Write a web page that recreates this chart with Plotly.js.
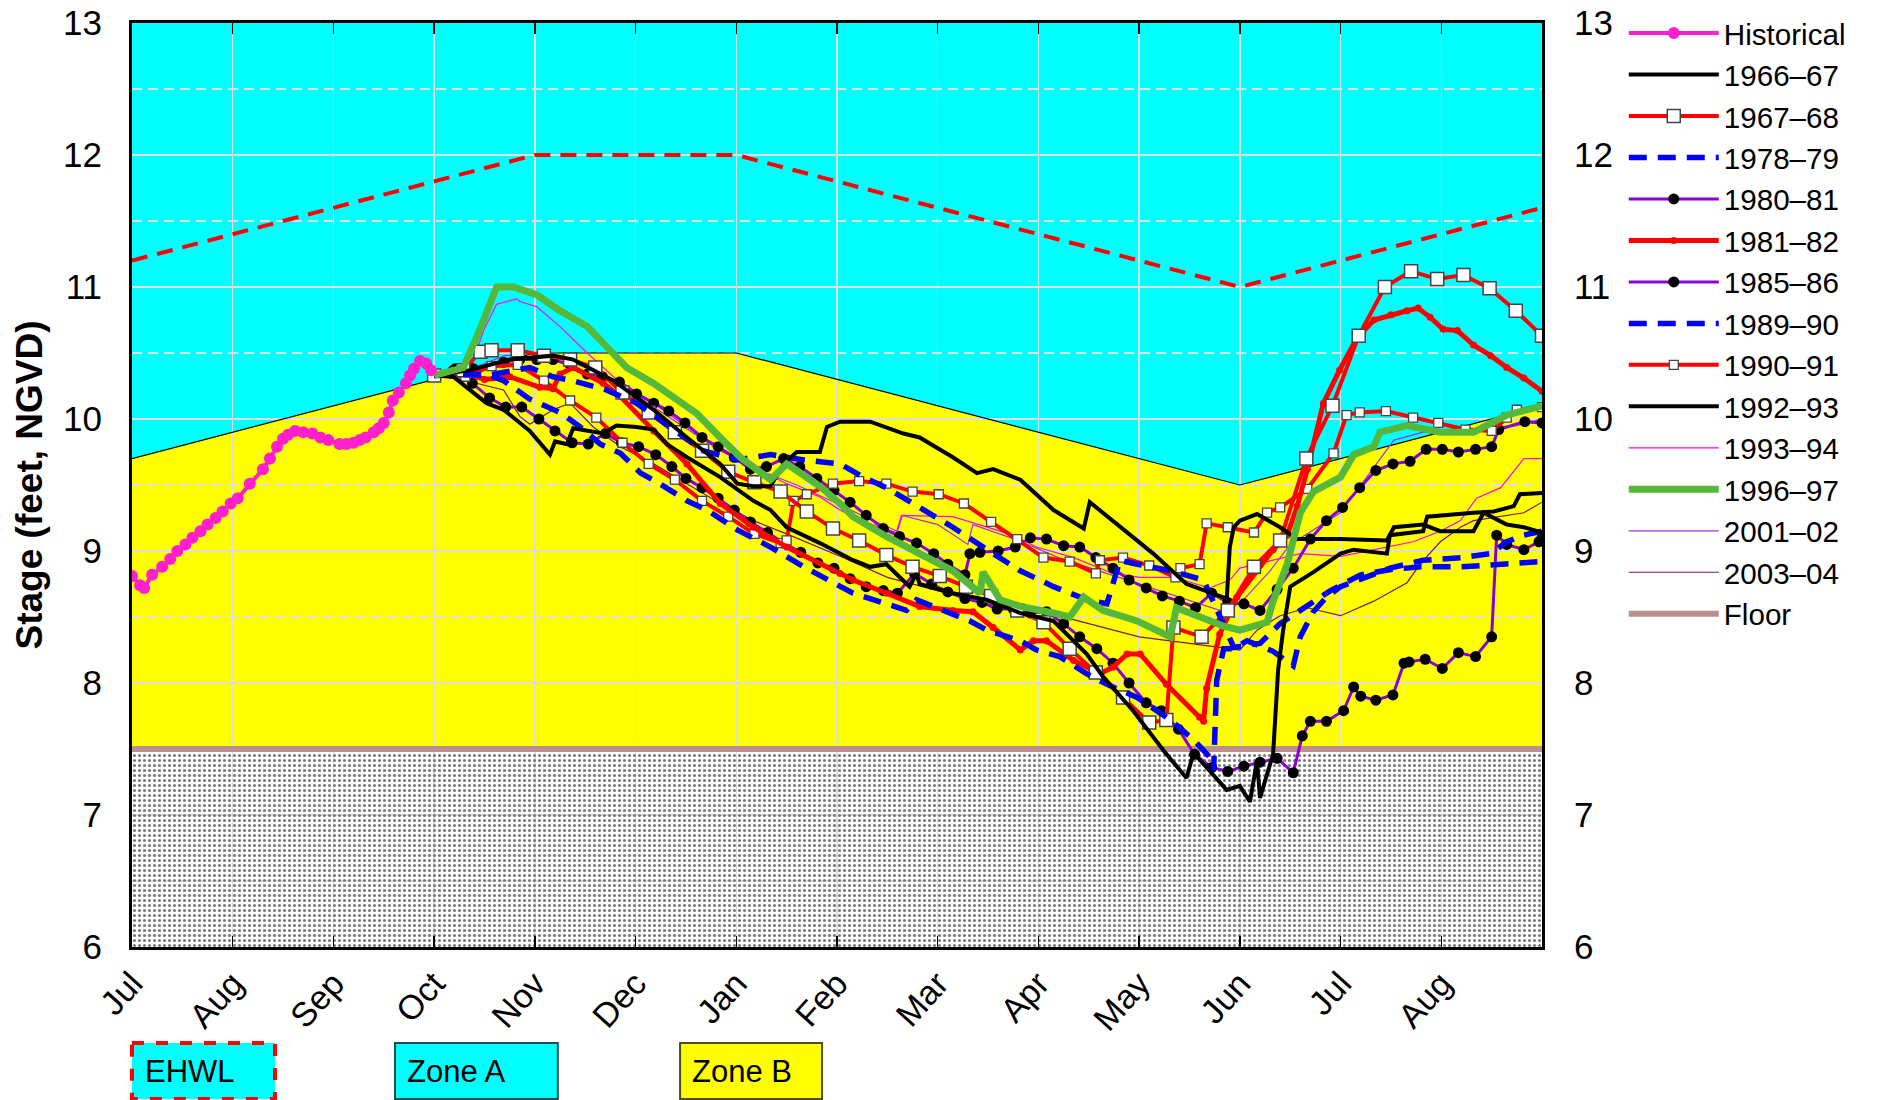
<!DOCTYPE html>
<html><head><meta charset="utf-8">
<script src="https://cdn.plot.ly/plotly-3.0.1.min.js"></script>
<style>html,body{margin:0;padding:0;background:#fff;}#chart{width:1885px;height:1100px;}</style>
</head><body><div id="chart"></div>
<script>
// x values are months after 1 July (0 = Jul 1, 14 = Aug 31 of the following year)
const monthTicks = [0,1,2,3,4,5,6,7,8,9,10,11,12,13];
const monthLabels = ['Jul','Aug','Sep','Oct','Nov','Dec','Jan','Feb','Mar','Apr','May','Jun','Jul','Aug'];
const yRange = [6,13];

// regulation schedule
const zone_m = [0,4,6,11,14];
const zoneB_top = [9.7,10.5,10.5,9.5,10.1];
const ehwl_v = [11.2,12.0,12.0,11.0,11.6];
const floor_m = [0,14];
const floor_v = [7.5,7.5];

// Historical
const hist_m = [0,0.08,0.12,0.2,0.3,0.38,0.45,0.53,0.6,0.68,0.75,0.83,0.9,0.98,1.05,1.17,1.3,1.37,1.44,1.5,1.55,1.62,1.7,1.79,1.87,1.95,2.06,2.13,2.2,2.26,2.32,2.4,2.45,2.5,2.55,2.59,2.65,2.72,2.76,2.8,2.86,2.92,2.97];
const hist_v = [8.81,8.74,8.72,8.82,8.88,8.94,9.0,9.05,9.1,9.15,9.2,9.25,9.3,9.36,9.4,9.51,9.62,9.7,9.79,9.85,9.88,9.91,9.9,9.89,9.86,9.84,9.81,9.81,9.82,9.84,9.86,9.9,9.93,9.97,10.05,10.14,10.2,10.27,10.33,10.38,10.44,10.42,10.37];

const y6667_m = [3.0,3.19,3.52,3.69,3.95,4.15,4.2,4.32,4.38,4.52,4.68,4.81,5.01,5.18,5.31,5.51,5.84,6.17,6.34,6.5,6.83,7.16,7.33,7.49,7.72,7.79,7.82,8.15,8.49,8.82,9.15,9.48,9.64,9.94,10.24,10.47,10.54,10.67,10.87,11.0,11.1,11.17,11.2,11.33,11.38,11.43,11.5,11.73,12.0,12.13,12.46,12.49,12.82,12.86,12.99,13.32,13.52,13.72,13.78,14.0];
const y6667_v = [10.33,10.32,10.12,10.07,9.91,9.73,9.83,9.81,9.93,9.91,9.89,9.95,9.94,9.92,9.81,9.71,9.56,9.38,9.31,9.18,9.06,8.93,8.88,8.9,8.73,8.83,8.75,8.68,8.63,8.53,8.47,8.22,8.05,7.79,7.49,7.28,7.47,7.36,7.19,7.22,7.1,7.41,7.13,7.46,8.1,8.4,8.73,8.84,8.98,9.01,8.98,9.12,9.15,9.26,9.27,9.29,9.3,9.34,9.43,9.44];

const y6768_m = [3.0,3.29,3.46,3.57,3.83,4.09,4.35,4.6,4.87,5.13,5.39,5.66,5.92,6.18,6.44,6.7,6.96,7.22,7.49,7.75,8.02,8.28,8.53,8.79,9.05,9.31,9.57,9.84,10.1,10.27,10.34,10.62,10.88,11.14,11.4,11.66,11.92,12.18,12.44,12.7,12.96,13.22,13.48,13.74,14.0];
const y6768_v = [10.33,10.37,10.51,10.52,10.52,10.48,10.45,10.39,10.2,10.05,9.9,9.76,9.6,9.52,9.45,9.3,9.17,9.08,8.97,8.88,8.81,8.73,8.66,8.55,8.46,8.26,8.08,7.89,7.7,7.72,8.42,8.35,8.55,8.88,9.08,9.7,10.1,10.63,11.0,11.12,11.06,11.09,10.99,10.82,10.63];

const y7879_m = [3.0,3.29,3.52,3.69,3.95,4.25,4.45,4.65,4.85,5.05,5.24,5.51,5.71,6.01,6.34,6.67,7.0,7.16,7.49,7.69,7.79,8.06,8.32,8.49,8.82,8.98,9.21,9.48,9.68,9.98,10.31,10.54,10.7,10.74,10.77,10.84,10.94,11.07,11.33,11.53,11.6,11.73,11.86,12.0,12.33,12.49,12.82,13.2,13.49,13.65,13.82,14.0];
const y7879_v = [10.33,10.34,10.34,10.29,10.15,10.05,9.94,9.81,9.74,9.59,9.51,9.38,9.31,9.16,9.03,8.88,8.75,8.68,8.6,8.55,8.63,8.55,8.47,8.4,8.32,8.25,8.2,8.07,7.99,7.89,7.72,7.57,7.44,7.34,8.02,8.26,8.26,8.32,8.24,8.13,8.35,8.54,8.65,8.73,8.82,8.87,8.93,8.95,8.98,9.07,9.12,9.15];

const y8081_m = [3.0,3.19,3.39,3.69,3.85,4.02,4.18,4.35,4.52,4.67,4.84,5.01,5.18,5.33,5.49,5.66,5.82,5.98,6.14,6.3,6.47,6.63,6.8,6.97,7.13,7.29,7.46,7.62,7.79,7.96,8.1,8.27,8.32,8.42,8.6,8.77,8.92,9.08,9.25,9.41,9.57,9.74,9.9,10.07,10.23,10.4,10.56,10.72,10.88,11.04,11.2,11.37,11.53,11.7,11.86,12.02,12.19,12.35,12.52,12.69,12.85,13.01,13.17,13.34,13.5,13.57,13.83,14.0];
const y8081_v = [10.33,10.37,10.38,10.43,10.45,10.45,10.45,10.41,10.34,10.32,10.28,10.19,10.12,10.06,9.97,9.86,9.79,9.71,9.62,9.64,9.7,9.64,9.55,9.46,9.37,9.27,9.17,9.11,9.06,8.98,8.9,8.82,8.98,8.99,9.0,9.03,9.1,9.09,9.04,9.03,8.95,8.87,8.78,8.72,8.66,8.62,8.57,8.68,8.61,8.6,8.55,8.71,8.87,9.09,9.23,9.33,9.48,9.61,9.66,9.68,9.77,9.77,9.75,9.77,9.79,9.92,9.98,9.97];

const y8182_m = [3.0,3.3,3.5,3.75,4.05,4.18,4.25,4.38,4.68,4.85,5.18,5.51,5.84,6.17,6.5,7.03,7.16,7.49,7.82,8.15,8.35,8.55,8.82,8.95,9.08,9.35,9.61,9.74,9.88,10.01,10.27,10.6,10.64,10.67,10.8,10.97,11.17,11.33,11.47,11.57,11.67,11.83,11.99,12.16,12.33,12.5,12.66,12.77,12.89,13.02,13.16,13.32,13.49,13.65,13.82,14.0];
const y8182_v = [10.33,10.35,10.3,10.32,10.24,10.23,10.34,10.39,10.27,10.17,9.91,9.66,9.36,9.18,9.03,8.83,8.78,8.68,8.58,8.55,8.54,8.42,8.25,8.32,8.32,8.17,8.07,8.12,8.22,8.22,7.99,7.74,7.71,7.96,8.37,8.65,8.85,9.01,9.12,9.34,9.62,10.12,10.37,10.61,10.75,10.79,10.82,10.84,10.77,10.68,10.67,10.56,10.48,10.39,10.31,10.21];

const y8586_m = [3.0,3.21,3.38,3.55,3.71,3.87,4.04,4.2,4.37,4.53,4.7,4.86,5.03,5.2,5.36,5.5,5.66,5.82,5.98,6.14,6.31,6.47,6.64,6.81,6.97,7.13,7.29,7.46,7.6,7.77,7.94,8.1,8.27,8.44,8.59,8.75,8.92,9.08,9.25,9.41,9.58,9.74,9.9,10.07,10.22,10.39,10.55,10.72,10.88,11.04,11.2,11.37,11.53,11.62,11.7,11.86,12.03,12.13,12.2,12.35,12.52,12.63,12.68,12.84,13.01,13.17,13.34,13.5,13.55,13.65,13.82,13.97,14.0];
const y8586_v = [10.33,10.38,10.27,10.16,10.09,10.09,10.0,9.91,9.82,9.81,9.89,9.82,9.79,9.73,9.64,9.55,9.48,9.4,9.31,9.22,9.14,9.06,8.99,8.91,8.87,8.79,8.73,8.7,8.68,8.83,8.75,8.69,8.64,8.61,8.56,8.56,8.53,8.54,8.45,8.35,8.26,8.15,8.0,7.85,7.79,7.65,7.46,7.36,7.33,7.37,7.4,7.43,7.32,7.6,7.71,7.71,7.79,7.97,7.9,7.87,7.91,8.15,8.16,8.18,8.11,8.23,8.2,8.35,9.12,9.05,9.01,9.07,9.1];

const y8990_m = [3.0,3.29,3.52,3.95,4.18,4.38,4.71,5.01,5.34,5.67,6.01,6.34,6.67,7.03,7.26,7.49,7.82,8.15,8.49,8.82,9.15,9.48,9.68,9.81,9.98,10.31,10.64,10.94,11.2,11.4,11.6,11.9,12.2,12.5,12.8,13.2,13.6,14.0];
const y8990_v = [10.33,10.34,10.33,10.39,10.32,10.29,10.22,10.12,9.94,9.76,9.69,9.73,9.69,9.66,9.56,9.48,9.33,9.18,9.01,8.85,8.73,8.63,8.6,8.93,8.9,8.85,8.78,8.27,8.3,8.45,8.55,8.7,8.82,8.86,8.88,8.88,8.9,8.92];

const y9091_m = [3.0,3.31,3.57,3.83,4.09,4.35,4.61,4.87,5.13,5.39,5.66,5.92,6.18,6.44,6.5,6.57,6.7,6.96,7.22,7.49,7.75,8.01,8.26,8.53,8.79,9.05,9.31,9.57,9.61,9.84,10.1,10.36,10.41,10.6,10.67,10.88,11.14,11.27,11.4,11.67,11.93,12.06,12.19,12.45,12.72,12.97,13.24,13.5,13.65,13.75,14.0];
const y9091_v = [10.33,10.32,10.4,10.41,10.29,10.14,10.01,9.82,9.66,9.54,9.38,9.26,9.13,9.06,9.08,9.38,9.43,9.51,9.53,9.51,9.45,9.43,9.36,9.22,9.09,8.95,8.92,8.83,8.93,8.95,8.89,8.8,8.87,8.9,9.21,9.18,9.14,9.29,9.33,9.47,9.74,10.03,10.05,10.06,10.01,9.97,9.92,9.91,10.01,10.07,10.09];

const y9293_m = [3.0,3.36,3.75,4.18,4.38,4.78,5.18,5.51,5.84,6.01,6.17,6.34,6.47,6.6,6.83,6.9,7.03,7.33,7.66,7.82,8.15,8.39,8.55,8.82,9.15,9.45,9.51,9.81,10.14,10.47,10.87,10.9,10.94,11.0,11.17,11.4,11.57,12.0,12.46,12.53,12.82,12.99,13.32,13.42,13.65,13.82,14.0];
const y9293_v = [10.33,10.37,10.45,10.48,10.45,10.29,10.07,9.86,9.66,9.51,9.49,9.49,9.66,9.75,9.75,9.94,9.98,9.98,9.89,9.86,9.71,9.59,9.62,9.54,9.31,9.17,9.37,9.18,8.98,8.75,8.64,9.03,9.18,9.23,9.28,9.18,9.09,9.09,9.08,9.18,9.2,9.15,9.15,9.29,9.2,9.18,9.14];

const y9394_m = [3.0,3.36,3.49,3.62,3.82,3.85,4.02,4.25,4.52,4.78,4.98,5.18,5.51,5.84,6.17,6.5,6.83,7.03,7.23,7.59,7.64,8.15,8.75,8.98,9.35,9.74,10.01,10.34,10.7,10.9,11.0,11.6,12.0,12.72,12.99,13.19,13.35,13.59,13.82,14.0];
const y9394_v = [10.33,10.37,10.67,10.87,10.91,10.89,10.85,10.7,10.5,10.32,10.22,10.12,9.94,9.76,9.64,9.51,9.41,9.31,9.23,9.14,9.27,9.26,9.12,9.03,8.95,8.83,8.8,8.8,8.72,8.78,8.87,8.98,8.96,9.07,9.15,9.23,9.4,9.48,9.7,9.7];

const y9697_m = [3.0,3.29,3.44,3.62,3.79,4.02,4.25,4.52,4.71,4.91,5.18,5.38,5.61,5.84,6.04,6.34,6.5,6.6,6.83,7.03,7.16,7.49,7.82,8.15,8.42,8.45,8.62,8.82,9.15,9.31,9.45,9.64,9.98,10.31,10.37,10.84,11.0,11.27,11.33,11.47,11.6,11.73,12.0,12.13,12.33,12.39,12.66,12.99,13.32,13.52,13.65,14.0];
const y9697_v = [10.33,10.39,10.65,11.0,11.0,10.94,10.82,10.7,10.55,10.39,10.27,10.17,10.04,9.86,9.71,9.54,9.66,9.61,9.49,9.36,9.26,9.11,8.98,8.85,8.68,8.84,8.63,8.58,8.53,8.5,8.65,8.55,8.47,8.35,8.57,8.43,8.4,8.46,8.62,8.9,9.29,9.45,9.56,9.73,9.79,9.9,9.95,9.9,9.9,9.98,10.03,10.1];

const y0102_m = [3.0,3.3,3.7,4.0,4.3,4.6,5.0,5.4,5.8,6.2,6.6,7.0,7.3,7.6,7.65,8.0,8.3,8.35,8.8,9.2,9.6,10.0,10.4,10.8,11.0,11.3,11.5,12.0,12.26,12.53,12.82,13.19,13.75,14.0];
const y0102_v = [10.33,10.36,10.48,10.5,10.45,10.36,10.18,9.98,9.78,9.62,9.5,9.36,9.25,9.15,9.27,9.2,9.05,9.2,9.08,8.95,8.85,8.75,8.65,8.55,8.6,8.85,9.05,9.29,9.56,9.84,9.9,9.92,9.95,10.0];

const y0304_m = [3.0,3.32,3.69,3.85,3.95,4.18,4.35,4.58,4.85,5.18,5.51,5.84,6.17,6.5,7.03,7.5,8.0,8.5,9.0,9.5,10.0,10.5,11.0,11.17,11.4,11.67,12.0,12.33,12.66,12.79,12.99,13.19,13.32,13.82,14.0];
const y0304_v = [10.33,10.29,10.22,10.02,9.96,10.07,10.12,9.94,9.79,9.66,9.51,9.36,9.23,9.13,8.96,8.8,8.7,8.6,8.55,8.45,8.35,8.3,8.25,8.4,8.51,8.57,8.51,8.62,8.76,8.9,9.07,9.18,9.23,9.29,9.37];

// ---------------------------------------------------------------
const traces = [];
function L(name, m, v, line, extra, rank) {
  const t = Object.assign({type:'scatter', mode:'lines', name:name, x:m, y:v, line:line, hoverinfo:'skip', legendrank:rank}, extra||{});
  traces.push(t);
}

// zone B boundary line
traces.push({type:'scatter', mode:'lines', x:zone_m, y:zoneB_top, line:{color:'black', width:1.2}, showlegend:false, hoverinfo:'skip'});
// EHWL
traces.push({type:'scatter', mode:'lines', x:zone_m, y:ehwl_v, line:{color:'#ff0000', width:4, dash:'16px,10px'}, showlegend:false, hoverinfo:'skip'});
// floor hatch (transparent background so the grid shows through)
traces.push({type:'scatter', mode:'lines', x:floor_m, y:floor_v, fill:'tozeroy', fillcolor:'rgba(0,0,0,0)',
  fillpattern:{shape:'.', bgcolor:'rgba(0,0,0,0)', fgcolor:'#7a7a7a', size:5, solidity:0.3},
  line:{width:0, color:'rgba(0,0,0,0)'}, showlegend:false, hoverinfo:'skip'});
// Floor line
L('Floor', floor_m, floor_v, {color:'#bc8f8f', width:6}, {}, 15);

L('2003\u201304', y0304_m, y0304_v, {color:'#7a1650', width:1.2}, {}, 14);
L('2001\u201302', y0102_m, y0102_v, {color:'#9a33e0', width:1.2}, {}, 13);
L('1993\u201394', y9394_m, y9394_v, {color:'#ff00ff', width:1.2}, {}, 11);

const dotMk = {symbol:'circle', size:11, color:'black'};
L('1985\u201386', y8586_m, y8586_v, {color:'#8a00d4', width:3}, {mode:'lines+markers', marker:dotMk}, 7);
L('1980\u201381', y8081_m, y8081_v, {color:'#8a00d4', width:3}, {mode:'lines+markers', marker:dotMk}, 5);
L('1990\u201391', y9091_m, y9091_v, {color:'#ff0000', width:4}, {mode:'lines+markers', marker:{symbol:'square', size:9, color:'white', line:{color:'#444', width:1.3}}}, 9);
L('1981\u201382', y8182_m, y8182_v, {color:'#ff0000', width:5}, {mode:'lines+markers', marker:{symbol:'circle', size:7, color:'#ff0000'}}, 6);
L('1967\u201368', y6768_m, y6768_v, {color:'#ff0000', width:4}, {mode:'lines+markers', marker:{symbol:'square', size:13, color:'white', line:{color:'#444', width:1.5}}}, 3);
L('1978\u201379', y7879_m, y7879_v, {color:'#0000ff', width:5.5, dash:'18px,11px'}, {}, 4);
L('1989\u201390', y8990_m, y8990_v, {color:'#0000ff', width:5.5, dash:'18px,11px'}, {}, 8);
L('1966\u201367', y6667_m, y6667_v, {color:'black', width:4}, {}, 2);
L('1992\u201393', y9293_m, y9293_v, {color:'black', width:4}, {}, 10);
L('1996\u201397', y9697_m, y9697_v, {color:'#55b83a', width:7}, {}, 12);
L('Historical', hist_m, hist_v, {color:'#ff1fce', width:4}, {mode:'lines+markers', marker:{symbol:'circle', size:12, color:'#ff1fce'}}, 1);

// dummy for right axis
traces.push({type:'scatter', mode:'lines', x:[null], y:[null], yaxis:'y2', showlegend:false, hoverinfo:'skip'});

// yellow Zone B area and white floor area built from the schedule arrays
let path = 'M ' + zone_m[0] + ',' + zoneB_top[0];
for (let i = 1; i < zone_m.length; i++) path += ' L ' + zone_m[i] + ',' + zoneB_top[i];
path += ' L ' + floor_m[1] + ',' + floor_v[1] + ' L ' + floor_m[0] + ',' + floor_v[0] + ' Z';
const floorPath = 'M ' + floor_m[0] + ',' + floor_v[0] + ' L ' + floor_m[1] + ',' + floor_v[1] +
  ' L ' + floor_m[1] + ',' + yRange[0] + ' L ' + floor_m[0] + ',' + yRange[0] + ' Z';

const FONT = 'Liberation Sans, Arial, Helvetica, sans-serif';
const boxY0 = -0.104, boxY1 = -0.1645;
const layout = {
  width:1885, height:1100,
  margin:{l:132, r:343, t:23, b:153, autoexpand:false},
  paper_bgcolor:'white', plot_bgcolor:'#00ffff',
  font:{family:FONT, color:'black', size:32},
  showlegend:true,
  legend:{x:1.058, y:1.017, xanchor:'left', yanchor:'top', bgcolor:'rgba(0,0,0,0)', font:{size:29.6, family:FONT},
    itemwidth:90, tracegroupgap:0, maxheight:1050},
  xaxis:{range:[0,14], tickmode:'array', tickvals:monthTicks, ticktext:monthLabels, tickangle:-48,
    tickfont:{size:34}, ticks:'inside', ticklen:11, tickwidth:1.5, tickcolor:'black', mirror:'ticks',
    showline:true, linecolor:'black', linewidth:3, showgrid:true, gridcolor:'#dedede', gridwidth:1.5, zeroline:false},
  yaxis:{range:yRange, tick0:6, dtick:1, ticks:'outside', ticklen:20, tickcolor:'rgba(0,0,0,0)',
    tickfont:{size:35}, showline:true, mirror:true, linecolor:'black', linewidth:3,
    showgrid:true, gridcolor:'#dedede', gridwidth:1.5, zeroline:false,
    minor:{dtick:0.5, showgrid:true, gridcolor:'#dedede', griddash:'10px,6px', gridwidth:1.5},
    title:{text:'<b>Stage (feet, NGVD)</b>', font:{size:37}, standoff:10}},
  yaxis2:{range:yRange, tick0:6, dtick:1, overlaying:'y', side:'right', ticks:'outside', ticklen:24,
    tickcolor:'rgba(0,0,0,0)', tickfont:{size:35}, showgrid:false, zeroline:false, showline:false},
  shapes:[
    {type:'path', path:path, xref:'x', yref:'y', layer:'below', fillcolor:'#ffff00', line:{width:0}},
    {type:'path', path:floorPath, xref:'x', yref:'y', layer:'below', fillcolor:'#ffffff', line:{width:0}},
    {type:'rect', xref:'paper', yref:'paper', x0:0.0, x1:0.1014, y0:boxY0, y1:boxY1, fillcolor:'#00ffff', line:{color:'#ff0000', width:4, dash:'dash'}},
    {type:'rect', xref:'paper', yref:'paper', x0:0.1865, x1:0.302, y0:boxY0, y1:boxY1, fillcolor:'#00ffff', line:{color:'#1a4f4f', width:2}},
    {type:'rect', xref:'paper', yref:'paper', x0:0.3887, x1:0.4894, y0:boxY0, y1:boxY1, fillcolor:'#ffff00', line:{color:'#4f4f1a', width:2}}
  ],
  annotations:[
    {xref:'paper', yref:'paper', x:0.0075, y:(boxY0+boxY1)/2, xanchor:'left', yanchor:'middle', text:'EHWL', showarrow:false, font:{size:31}},
    {xref:'paper', yref:'paper', x:0.1935, y:(boxY0+boxY1)/2, xanchor:'left', yanchor:'middle', text:'Zone A', showarrow:false, font:{size:31}},
    {xref:'paper', yref:'paper', x:0.3957, y:(boxY0+boxY1)/2, xanchor:'left', yanchor:'middle', text:'Zone B', showarrow:false, font:{size:31}}
  ]
};

Plotly.newPlot('chart', traces, layout, {staticPlot:true, displayModeBar:false});
</script>
</body></html>
